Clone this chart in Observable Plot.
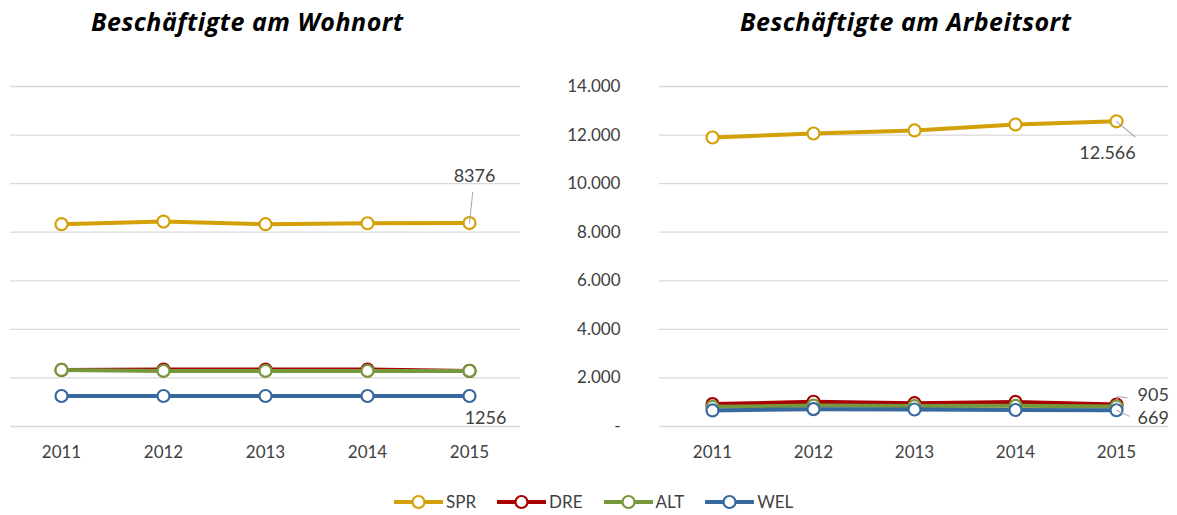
<!DOCTYPE html>
<html>
<head>
<meta charset="utf-8">
<script src="https://cdn.jsdelivr.net/npm/d3@7"></script>
<script src="https://cdn.jsdelivr.net/npm/@observablehq/plot@0.6"></script>
<style>
  body { margin: 0; background: #fff; font-family: Lato, "Open Sans", sans-serif; }
  #wrap { position: relative; width: 1177px; height: 515px; overflow: hidden; }
  .title { position: absolute; top: 4px; font-family: "Open Sans", Lato, sans-serif; font-weight: bold; font-style: italic; font-size: 25px; line-height: 34px; color: #000; white-space: nowrap; letter-spacing: 0.5px; }
  .panel { position: absolute; top: 50px; }
  #legend { position: absolute; top: 491px; left: 394px; display: flex; align-items: center; gap: 0; font-size: 17px; color: #404040; }
  #legend .item { display: flex; align-items: center; margin-right: 21px; }
  #legend svg { display: block; margin-right: 3px; }
</style>
</head>
<body>
<div id="wrap">
  <div class="title" id="t1" style="left:91px">Beschäftigte am Wohnort</div>
  <div class="title" id="t2" style="left:740px">Beschäftigte am Arbeitsort</div>
  <div class="panel" id="p1" style="left:0px"></div>
  <div class="panel" id="p2" style="left:540px"></div>
  <div id="legend"></div>
</div>
<script>
const years = [2011, 2012, 2013, 2014, 2015];
const series = ["SPR", "DRE", "ALT", "WEL"];
const colors = ["#D4A007", "#A80000", "#77973D", "#37689E"];
const yTicks = [0, 2000, 4000, 6000, 8000, 10000, 12000, 14000];

// Beschäftigte am Wohnort
const wohnSPR = [8330, 8440, 8330, 8370, 8376];
const wohnDRE = [2330, 2345, 2345, 2345, 2290];
const wohnALT = [2330, 2290, 2290, 2290, 2290];
const wohnWEL = [1256, 1256, 1256, 1256, 1256];

// Beschäftigte am Arbeitsort
const arbSPR = [11900, 12065, 12190, 12435, 12566];
const arbDRE = [922, 1020, 960, 1010, 905];
const arbALT = [810, 860, 840, 850, 820];
const arbWEL = [660, 715, 700, 680, 669];

function toRows(list) {
  const rows = [];
  series.forEach((s, i) => years.forEach((y, j) => rows.push({series: s, year: y, value: list[i][j]})));
  return rows;
}
const wohnData = toRows([wohnSPR, wohnDRE, wohnALT, wohnWEL]);
const arbData = toRows([arbSPR, arbDRE, arbALT, arbWEL]);

const fmtDE = v => v === 0 ? "-" : d3.format(",")(v).replace(/,/g, ".");

const spike = { draw(ctx, l) { ctx.moveTo(0, 0); ctx.lineTo(0, -l); } };
const elbow = { draw(ctx, l) { ctx.moveTo(0, 0); ctx.lineTo(0, -l); ctx.lineTo(l * 1.2, -l); } };

function seriesMarks(data) {
  const marks = [];
  series.forEach((s, i) => {
    const d = data.filter(r => r.series === s);
    marks.push(Plot.line(d, {x: "year", y: "value", stroke: colors[i], strokeWidth: 4, strokeLinejoin: "round", strokeLinecap: "round"}));
    marks.push(Plot.dot(d, {x: "year", y: "value", r: 6, fill: "white", stroke: colors[i], strokeWidth: 2.2}));
  });
  return marks;
}

function last(data, s) { return data.filter(r => r.series === s && r.year === 2015); }

function makePanel({width, marginLeft, marginRight, data, showY, extra}) {
  return Plot.plot({
    width, height: 421, marginTop: 36, marginBottom: 45, marginLeft, marginRight,
    style: {fontFamily: "Lato, 'Open Sans', sans-serif", fontSize: "17px", color: "#404040", background: "white"},
    x: {type: "point", domain: years, padding: 0.5, axis: null},
    y: {domain: [0, 14000], axis: null},
    marks: [
      Plot.gridY(yTicks, {stroke: "#d9d9d9", strokeOpacity: 1, strokeWidth: 1.3}),
      Plot.axisX({tickSize: 0, tickPadding: 19, label: null, tickFormat: d => String(d), fill: "#404040"}),
      showY ? Plot.axisY(yTicks, {tickSize: 0, tickPadding: 39, label: null, tickFormat: fmtDE, fill: "#404040"}) : null,
      ...seriesMarks(data),
      ...extra
    ]
  });
}

const leader = {stroke: "#a6a6a6", strokeWidth: 1, anchor: "start"};

const p1 = makePanel({
  width: 540, marginLeft: 10, marginRight: 20, data: wohnData, showY: false,
  extra: [
    Plot.vector(last(wohnData, "SPR"), {x: "year", y: "value", length: 31, rotate: 6, shape: spike, ...leader}),
    Plot.text(last(wohnData, "SPR"), {x: "year", y: "value", text: d => String(d.value), dx: 5, dy: -47, fontSize: 18, fill: "#404040"}),
    Plot.text(last(wohnData, "WEL"), {x: "year", y: "value", text: d => String(d.value), dx: 16, dy: 22, fontSize: 18, fill: "#404040"})
  ]
});

const p2 = makePanel({
  width: 637, marginLeft: 119, marginRight: 9, data: arbData, showY: true,
  extra: [
    Plot.vector(last(arbData, "SPR"), {x: "year", y: "value", length: 24, rotate: 130, shape: spike, ...leader}),
    Plot.text(last(arbData, "SPR"), {x: "year", y: "value", text: d => fmtDE(d.value), dx: -9, dy: 32, fontSize: 18, fill: "#404040"}),
    Plot.vector(last(arbData, "DRE"), {x: "year", y: "value", length: 8, rotate: 8, shape: elbow, ...leader}),
    Plot.text(last(arbData, "DRE"), {x: "year", y: "value", text: d => fmtDE(d.value), dx: 21, dy: -9, textAnchor: "start", fontSize: 18, fill: "#404040"}),
    Plot.vector(last(arbData, "WEL"), {x: "year", y: "value", length: 14, rotate: 115, shape: spike, ...leader}),
    Plot.text(last(arbData, "WEL"), {x: "year", y: "value", text: d => fmtDE(d.value), dx: 21, dy: 8, textAnchor: "start", fontSize: 18, fill: "#404040"})
  ]
});

document.getElementById("p1").appendChild(p1);
document.getElementById("p2").appendChild(p2);

// Legend
const legend = document.getElementById("legend");
series.forEach((s, i) => {
  const item = document.createElement("div");
  item.className = "item";
  item.innerHTML = `<svg width="49" height="16"><line x1="1" y1="8" x2="48" y2="8" stroke="${colors[i]}" stroke-width="4" stroke-linecap="round"/><circle cx="24.5" cy="8" r="6" fill="white" stroke="${colors[i]}" stroke-width="2.2"/></svg><span>${s}</span>`;
  legend.appendChild(item);
});
</script>
</body>
</html>
